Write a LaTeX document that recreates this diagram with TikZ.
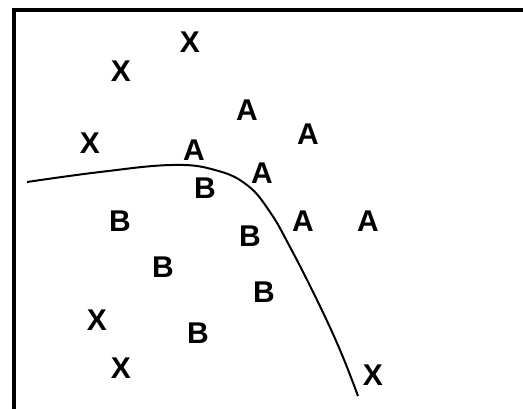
\documentclass[tikz,border=0pt]{standalone}
\usepackage{fontspec}
\setmainfont{Liberation Sans}
\begin{document}
\begin{tikzpicture}[x=1pt,y=-1pt,
  lbl/.style={font=\fontsize{30}{30}\selectfont\bfseries, inner sep=0pt, anchor=center}]
\useasboundingbox (0,0) rectangle (523,408);
\fill[white] (0,0) rectangle (523,408);
\draw[line width=4pt] (13.5,420) -- (13.5,9.5) -- (530,9.5);
% decision curve
\draw[line width=2pt] plot[smooth, tension=0.7] coordinates
  {(27,182) (100,172) (172,165) (215,170) (247,185) (270,212) (290,247) (317,300) (340,350) (358,396)};
% X
\node[lbl] (x1) at (190,42) {X};
\node[lbl] (x2) at (121,71) {X};
\node[lbl] (x3) at (90,143) {X};
\node[lbl] (x4) at (97,320) {X};
\node[lbl] (x5) at (121,368) {X};
\node[lbl] (x6) at (373,375) {X};
% A
\node[lbl] (a1) at (247,110) {A};
\node[lbl] (a2) at (308,134) {A};
\node[lbl] (a3) at (194,150) {A};
\node[lbl] (a4) at (262,173) {A};
\node[lbl] (a5) at (303,221) {A};
\node[lbl] (a6) at (368,221) {A};
% B
\node[lbl] (b1) at (205,188) {B};
\node[lbl] (b2) at (120,221) {B};
\node[lbl] (b3) at (250,236) {B};
\node[lbl] (b4) at (163,267) {B};
\node[lbl] (b5) at (264,292) {B};
\node[lbl] (b6) at (198,333) {B};
\end{tikzpicture}
\end{document}
